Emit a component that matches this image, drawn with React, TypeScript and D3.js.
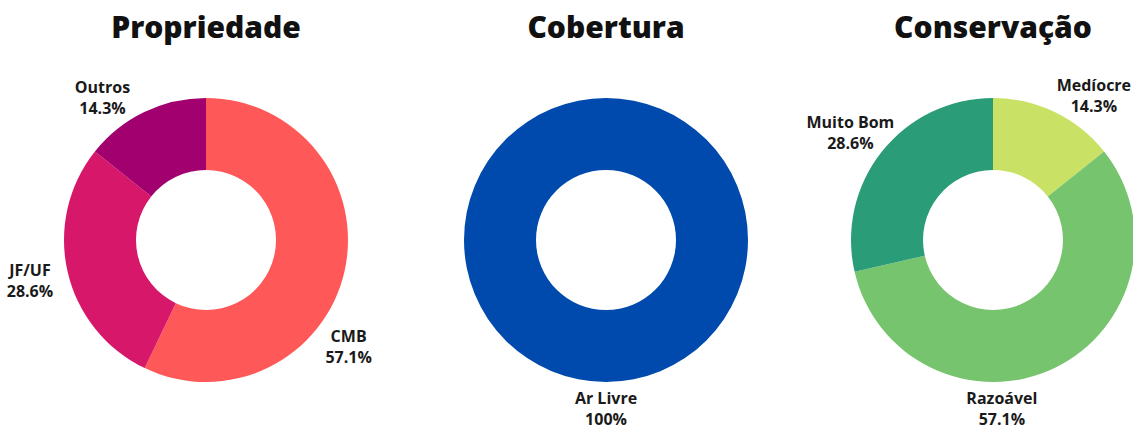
import React from 'react';
import * as d3 from 'd3';

// Propriedade
const propCategories = ['CMB', 'JF/UF', 'Outros'];
const propValues = [57.1, 28.6, 14.3];
const propColors = ['#FF5858', '#D7176A', '#A2006F'];

// Cobertura
const cobCategories = ['Ar Livre'];
const cobValues = [100];
const cobColors = ['#004AAD'];

// Conservação
const consCategories = ['Medíocre', 'Razoável', 'Muito Bom'];
const consValues = [14.3, 57.1, 28.6];
const consColors = ['#C9E265', '#76C46D', '#2A9D78'];

const titles = ['Propriedade', 'Cobertura', 'Conservação'];

// label placement angle (degrees clockwise from top)
const labelAngle: Record<string, number> = {
  'CMB': 127,
  'JF/UF': 257,
  'Outros': -36,
  'Ar Livre': 180,
  'Medíocre': 35,
  'Razoável': 177,
  'Muito Bom': 307,
};

const WIDTH = 1133;
const HEIGHT = 430;
const OUTER = 142;
const INNER = 70;
const FONT = '"Open Sans", "Noto Sans", sans-serif';

type Slice = { label: string; value: number; color: string };

function Donut({ cx, cy, title, slices }: { cx: number; cy: number; title: string; slices: Slice[] }) {
  const pie = d3.pie<Slice>().value(d => d.value).sort(null);
  const arc = d3.arc<d3.PieArcDatum<Slice>>().innerRadius(INNER).outerRadius(OUTER);
  const arcs = pie(slices);
  const fmt = (v: number) => (v === 100 ? '100%' : `${v.toFixed(1)}%`);

  return (
    <g>
      <text
        x={cx}
        y={38}
        textAnchor="middle"
        fontFamily={FONT}
        fontWeight={800}
        fontSize={30}
        fill="#111"
      >
        {title}
      </text>
      <g transform={`translate(${cx},${cy})`}>
        {arcs.map(a => (
          <path key={a.data.label} d={arc(a) || ''} fill={a.data.color} />
        ))}
        {arcs.map(a => {
          const ang = ((labelAngle[a.data.label] ?? 0) * Math.PI) / 180;
          // labels sit a bit further out at the sides, where the text is wider
          const r = 169 + 12 * Math.abs(Math.sin(ang));
          const lx = Math.sin(ang) * r;
          const ly = -Math.cos(ang) * r;
          return (
            <text
              key={'l' + a.data.label}
              x={lx}
              y={ly}
              textAnchor="middle"
              fontFamily={FONT}
              fontWeight={700}
              fontSize={16}
              fill="#1a1a1a"
            >
              <tspan x={lx} dy={-5}>{a.data.label}</tspan>
              <tspan x={lx} dy={21}>{fmt(a.data.value)}</tspan>
            </text>
          );
        })}
      </g>
    </g>
  );
}

export default function App() {
  const build = (cats: string[], vals: number[], cols: string[]) =>
    cats.map((c, i) => ({ label: c, value: vals[i], color: cols[i] }));

  const centers = [206, 606, 993];
  const data = [
    build(propCategories, propValues, propColors),
    build(cobCategories, cobValues, cobColors),
    build(consCategories, consValues, consColors),
  ];

  return (
    <svg
      width={WIDTH}
      height={HEIGHT}
      style={{ position: 'absolute', left: 0, top: 0, background: '#fff' }}
    >
      {data.map((slices, i) => (
        <Donut key={titles[i]} cx={centers[i]} cy={240} title={titles[i]} slices={slices} />
      ))}
    </svg>
  );
}
